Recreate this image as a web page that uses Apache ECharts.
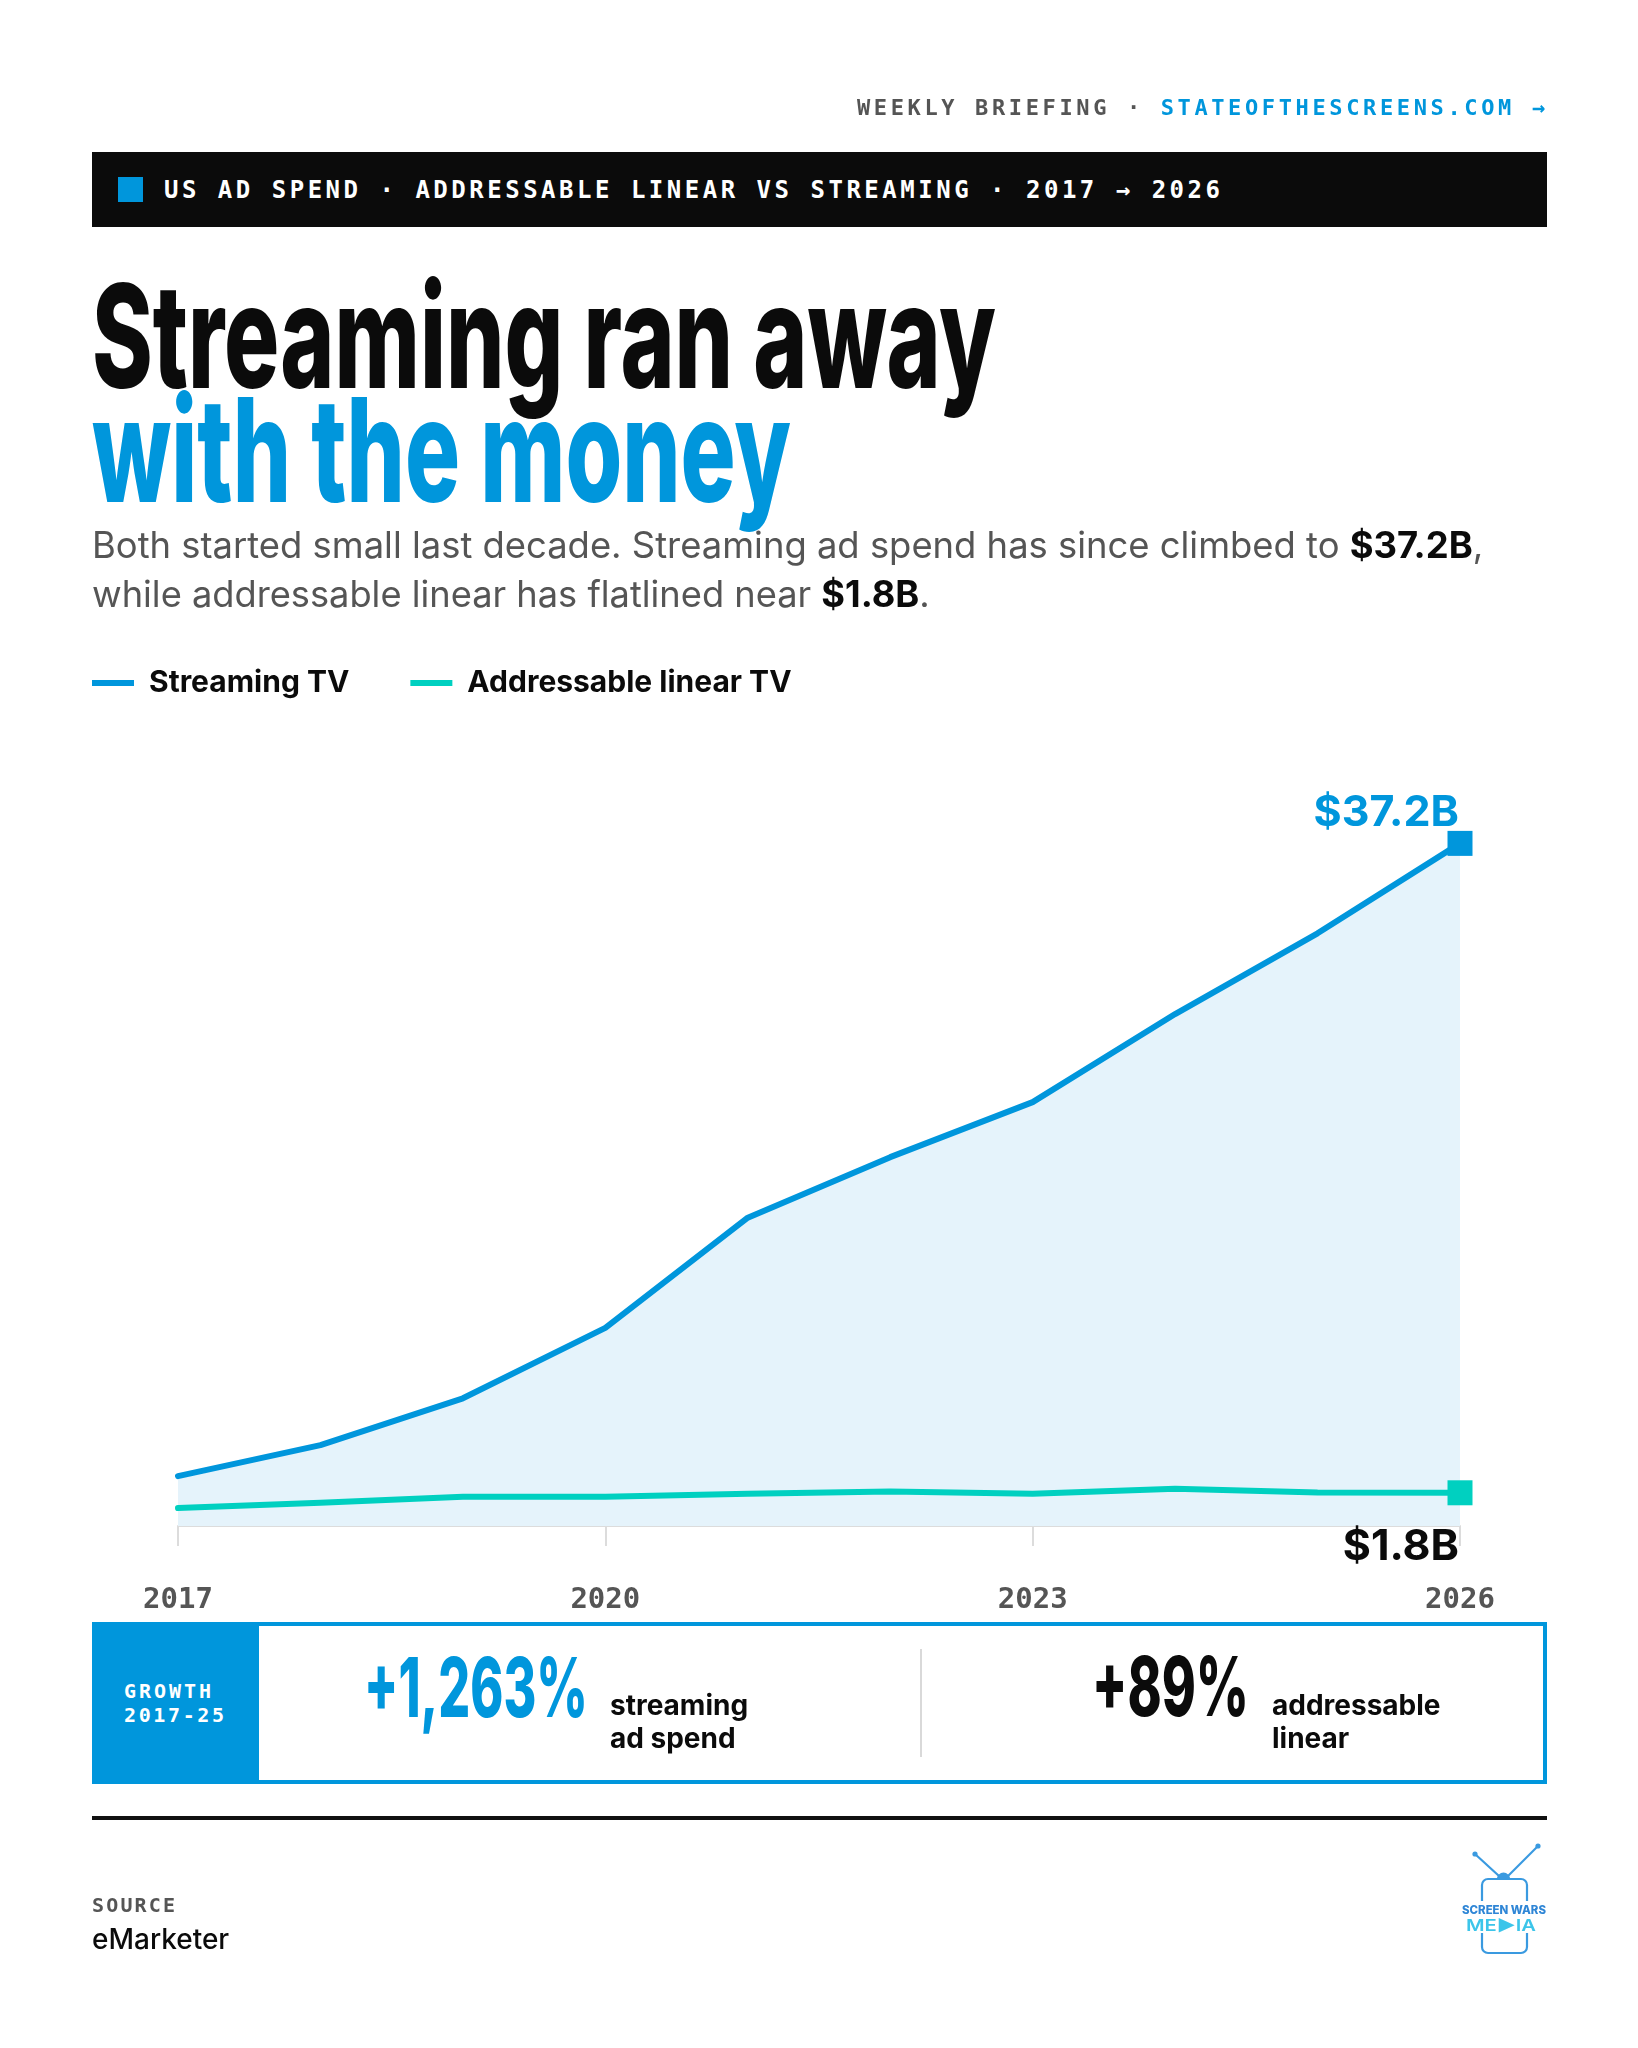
<!DOCTYPE html>
<html><head><meta charset="utf-8">
<script src="https://cdn.jsdelivr.net/npm/echarts@6/dist/echarts.min.js"></script>
<style>
html,body{margin:0;padding:0;background:#fff;}
body{width:1638px;height:2048px;position:relative;overflow:hidden;}
#chart{position:absolute;left:0;top:0;width:1638px;height:2048px;}
.t{position:absolute;left:0;top:0;white-space:nowrap;line-height:1;}
.t b{color:#0b0b0b;font-weight:700;}
.box{position:absolute;}
</style></head><body>
<div id="chart"></div>
<div class="box" style="left:92px;top:152px;width:1455px;height:75px;background:#0b0b0b"></div>
<div class="box" style="left:118px;top:177px;width:25px;height:25px;background:#0096dc"></div>
<div class="box" style="left:92px;top:1622px;width:1455px;height:162px;border:4px solid #0096dc;box-sizing:border-box"></div>
<div class="box" style="left:92px;top:1622px;width:167px;height:162px;background:#0096dc"></div>
<div class="box" style="left:920px;top:1649px;width:2px;height:108px;background:#d9d9d9"></div>
<div class="box" style="left:92px;top:1816px;width:1455px;height:4px;background:#111"></div>
<svg class="box" style="left:1440px;top:1830px" width="130" height="140" viewBox="1440 1830 130 140">
  <g stroke="#3a9ae0" stroke-width="2.2" fill="none" stroke-linecap="round">
    <line x1="1475" y1="1854" x2="1499" y2="1876"/>
    <line x1="1538" y1="1846" x2="1508" y2="1876"/>
    <rect x="1482" y="1879" width="45" height="74" rx="6"/>
  </g>
  <circle cx="1475" cy="1854" r="2.6" fill="#3a9ae0"/>
  <circle cx="1538" cy="1846" r="2.6" fill="#3a9ae0"/>
  <path d="M1497 1879 A6.5 6.5 0 0 1 1510 1879 Z" fill="#3a9ae0"/>
  <rect x="1458" y="1901" width="94" height="32" fill="#fff"/>
  <text x="1462" y="1914" textLength="84" lengthAdjust="spacingAndGlyphs" font-family="Inter" font-weight="800" font-size="11.5" fill="#2f86d6">SCREEN WARS</text>
  <text x="1466" y="1931" textLength="70" lengthAdjust="spacingAndGlyphs" font-family="Inter" font-weight="600" font-size="16" fill="#3cc5ea">ME▶IA</text>
</svg>
<script>
// ---- data ----
const years = ['2017','2018','2019','2020','2021','2022','2023','2024','2025','2026'];
const streamingTV = [2.72, 4.41, 6.96, 10.8, 16.8, 20.1, 23.1, 27.9, 32.3, 37.2];
const addressableLinearTV = [0.98, 1.27, 1.6, 1.6, 1.76, 1.88, 1.76, 2.03, 1.82, 1.81];
const seriesNames = ['Streaming TV', 'Addressable linear TV'];
const endLabels = ['$37.2B', '$1.8B'];

const BLUE = '#0096dc', TEAL = '#00d0c0', INK = '#0b0b0b';
const last = years.length - 1;

function withEndLabel(arr, label, pos, color, dist) {
  return arr.map((v, i) => i === last ? {
    value: v,
    label: { show: true, formatter: label, position: pos, align: 'right', distance: dist, offset: [-1, 0],
      fontFamily: 'Inter', fontWeight: 'bold', fontSize: 43, color: color }
  } : v);
}

const chart = echarts.init(document.getElementById('chart'), null, { renderer: 'canvas' });
chart.setOption({
  animation: false,
  legend: {
    left: 92, top: 668, padding: 0, icon: 'rect', itemWidth: 42, itemHeight: 6, itemGap: 61,
    textStyle: { fontFamily: 'Inter', fontWeight: 'bold', fontSize: 30, color: INK, padding: [0, 0, 0, 10] },
    data: seriesNames
  },
  grid: { left: 178, right: 178, top: 792, bottom: 522 },
  xAxis: {
    type: 'category', data: years, boundaryGap: false,
    axisLine: { lineStyle: { color: '#dcdcdc', width: 2 } },
    axisTick: { interval: 2, length: 20, lineStyle: { color: '#dcdcdc', width: 2 } },
    axisLabel: { interval: 2, margin: 60, fontFamily: 'DejaVu Sans Mono', fontWeight: 'bold', fontSize: 29, color: '#555' }
  },
  yAxis: { type: 'value', min: 0, max: 40, show: false, splitLine: { show: false } },
  series: [
    {
      name: seriesNames[0], type: 'line', z: 2,
      data: withEndLabel(streamingTV, endLabels[0], 'top', BLUE, -4),
      symbol: (v, p) => p.dataIndex === last ? 'rect' : 'none', symbolSize: 25, showAllSymbol: true,
      itemStyle: { color: BLUE },
      lineStyle: { color: BLUE, width: 6, cap: 'round', join: 'round' },
      areaStyle: { color: '#e5f3fb', opacity: 1 }
    },
    {
      name: seriesNames[1], type: 'line', z: 3,
      data: withEndLabel(addressableLinearTV, endLabels[1], 'bottom', INK, 20),
      symbol: (v, p) => p.dataIndex === last ? 'rect' : 'none', symbolSize: 25, showAllSymbol: true,
      itemStyle: { color: TEAL },
      lineStyle: { color: TEAL, width: 6, cap: 'round', join: 'round' }
    }
  ]
});

// ---- text layout (baseline-placed) ----
const MONO = '"DejaVu Sans Mono", monospace';
const TEXTS = [
  { html: 'WEEKLY BRIEFING · <span style="color:#0096dc">STATEOFTHESCREENS.COM →</span>', font: '700 22px ' + MONO, color: '#555', right: 1545, ls: 688, base: 115 },
  { html: 'US AD SPEND · ADDRESSABLE LINEAR VS STREAMING · 2017 → 2026', font: '700 24px ' + MONO, color: '#fff', x: 164, ls: 1056, base: 198 },
  { html: 'Streaming ran away', font: '800 144px Inter', color: INK, x: 92, sx: 904, base: 388 },
  { html: 'with the money', font: '800 144px Inter', color: BLUE, x: 92, sx: 699, base: 502 },
  { html: 'Both started small last decade. Streaming ad spend has since climbed to <b>$37.2B</b>,', font: '400 36px Inter', color: '#555', x: 92, fit: 1392, base: 558 },
  { html: 'while addressable linear has flatlined near <b>$1.8B</b>.', font: '400 36px Inter', color: '#555', x: 92, fit: 838, base: 607 },
  { html: 'GROWTH', font: '700 20px ' + MONO, color: '#fff', x: 124, ls: 87, base: 1698 },
  { html: '2017-25', font: '700 20px ' + MONO, color: '#fff', x: 124, ls: 100, base: 1722 },
  { html: '+1,263%', font: '800 82px Inter', color: BLUE, x: 364, sx: 224, base: 1717 },
  { html: 'streaming', font: '700 28px Inter', color: INK, x: 610, base: 1715 },
  { html: 'ad spend', font: '700 28px Inter', color: INK, x: 610, base: 1748 },
  { html: '+89%', font: '800 82px Inter', color: INK, x: 1092, sx: 157, base: 1716 },
  { html: 'addressable', font: '700 28px Inter', color: INK, x: 1272, base: 1715 },
  { html: 'linear', font: '700 28px Inter', color: INK, x: 1272, base: 1748 },
  { html: 'SOURCE', font: '700 20px ' + MONO, color: '#555', x: 92, ls: 83, base: 1912 },
  { html: 'eMarketer', font: '500 28px Inter', color: INK, x: 92, base: 1949 }
];
function layout() {
  document.querySelectorAll('.t').forEach(e => e.remove());
  for (const it of TEXTS) {
    const d = document.createElement('div');
    d.className = 't';
    d.style.font = it.font; d.style.lineHeight = '1'; d.style.color = it.color;
    d.innerHTML = '<span>' + it.html + '</span><span style="display:inline-block;width:0;height:0"></span>';
    document.body.appendChild(d);
    const c = d.firstChild, m = d.lastChild;
    if (it.fit) {
      const w = c.getBoundingClientRect().width;
      d.style.fontSize = (parseFloat(getComputedStyle(d).fontSize) * it.fit / w) + 'px';
    }
    let w = c.getBoundingClientRect().width;
    if (it.ls) {
      const n = c.textContent.length;
      c.style.letterSpacing = ((it.ls - w) / (n - 1)) + 'px';
      w = it.ls;
    }
    if (it.sx) {
      d.style.transformOrigin = '0 0';
      d.style.transform = 'scaleX(' + (it.sx / w) + ')';
      w = it.sx;
    }
    const mb = m.getBoundingClientRect().top;
    const left = it.right !== undefined ? it.right - w : it.x;
    d.style.left = left + 'px';
    d.style.top = (it.base - mb) + 'px';
  }
}
layout();
if (document.fonts && document.fonts.ready) document.fonts.ready.then(layout);
</script>
</body></html>
